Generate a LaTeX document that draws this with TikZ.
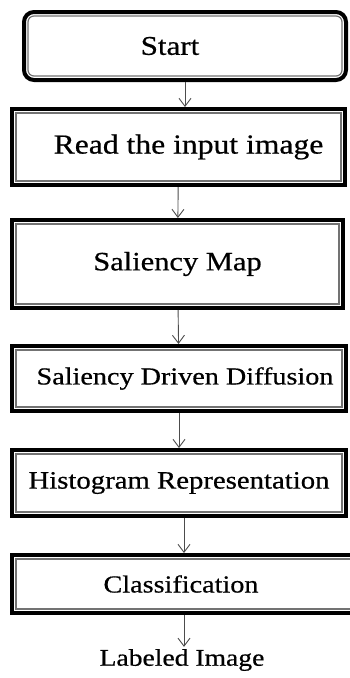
\documentclass[tikz,border=0pt]{standalone}
\usepackage{fontspec}
\setmainfont[FakeStretch=1.15, FakeBold=0.6]{Liberation Serif}
\usetikzlibrary{arrows.meta}

\tikzset{
  stepbox/.style={draw=black!55, line width=1.2pt, rectangle, inner sep=0pt, outer sep=6pt, text centered},
  frame/.style={draw=black, line width=4pt},
  arr/.style={-{Straight Barb[length=8pt, width=12pt]}, draw=black!70, line width=0.9pt},
}

\begin{document}
\begin{tikzpicture}[x=1pt, y=-1pt]
  \useasboundingbox (0,0) rectangle (350,678);

  \node (start) [stepbox, rounded corners=6pt, minimum width=314pt, minimum height=60pt, font=\fontsize{27}{30}\selectfont] at (185,46) {Start\hspace*{30pt}};
  \node (read) [stepbox, minimum width=325pt, minimum height=68pt, font=\fontsize{27.5}{30}\selectfont] at (178.5,147) {\hspace*{20pt}Read the input image};
  \node (salmap) [stepbox, minimum width=323pt, minimum height=80pt, font=\fontsize{26.5}{30}\selectfont] at (177.5,264) {Saliency Map};
  \node (diffusion) [stepbox, minimum width=326pt, minimum height=57pt, font=\fontsize{24.5}{28}\selectfont] at (179,378.5) {\hspace*{12pt}Saliency Driven Diffusion};
  \node (histogram) [stepbox, minimum width=326pt, minimum height=58pt, font=\fontsize{25}{28}\selectfont] at (179,483) {Histogram Representation};
  \node (classify) [stepbox, minimum width=336pt, minimum height=50pt, font=\fontsize{24.5}{28}\selectfont] at (184,584) {Classification\hspace*{6pt}};
  \node (labeled) [inner sep=2pt, font=\fontsize{24}{28}\selectfont] at (182,660) {Labeled Image};

  % thick outer frames
  \draw [frame, rounded corners=10pt] ([shift={(2pt,-2pt)}]start.north west) rectangle ([shift={(-2pt,2pt)}]start.south east);
  \foreach \n in {read, salmap, diffusion, histogram, classify}
    \draw [frame] ([shift={(2pt,-2pt)}]\n.north west) rectangle ([shift={(-2pt,2pt)}]\n.south east);

  \draw [arr] (start.south) -- (start.south |- read.north);
  \draw [arr] (read) -- (salmap);
  \draw [arr] (salmap) -- (diffusion);
  \draw [arr] (diffusion) -- (histogram);
  \draw [arr] (histogram.south -| classify.south) -- (classify.north);
  \draw [arr] (classify.south) -- (classify.south |- labeled.north);
\end{tikzpicture}
\end{document}
